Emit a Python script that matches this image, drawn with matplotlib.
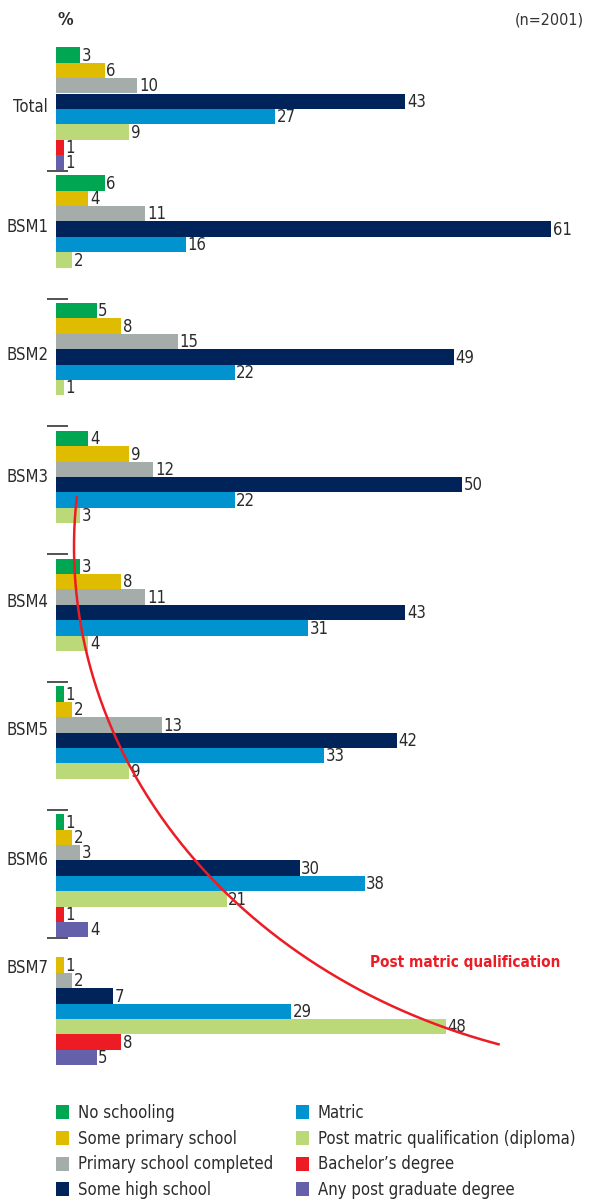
import numpy as np
import matplotlib.pyplot as plt
from matplotlib.patches import Patch

plt.rcParams['font.family'] = ['DejaVu Sans Condensed', 'DejaVu Sans']
plt.rcParams['font.stretch'] = 'condensed'
plt.rcParams['text.color'] = '#2b2b2b'

groups = ['Total', 'BSM1', 'BSM2', 'BSM3', 'BSM4', 'BSM5', 'BSM6', 'BSM7']
categories = ['No schooling', 'Some primary school', 'Primary school completed',
              'Some high school', 'Matric', 'Post matric qualification (diploma)',
              'Bachelor\u2019s degree', 'Any post graduate degree']
colors = ['#00a651', '#e0bc00', '#a5adaa', '#00245a',
          '#0093cf', '#bcd97a', '#ed1c24', '#6460aa']

no_schooling      = [3, 6, 5, 4, 3, 1, 1, 0]
some_primary      = [6, 4, 8, 9, 8, 2, 2, 1]
primary_completed = [10, 11, 15, 12, 11, 13, 3, 2]
some_high         = [43, 61, 49, 50, 43, 42, 30, 7]
matric            = [27, 16, 22, 22, 31, 33, 38, 29]
post_matric       = [9, 2, 1, 3, 4, 9, 21, 48]
bachelors         = [1, 0, 0, 0, 0, 0, 1, 8]
post_grad         = [1, 0, 0, 0, 0, 0, 4, 5]
series = [no_schooling, some_primary, primary_completed, some_high,
          matric, post_matric, bachelors, post_grad]

# layout (bar slots)
period = 8.3
label_off = [3.4, 2.85, 2.85, 2.5, 2.35, 2.3, 2.5, 1.2]
W, H = 602, 1201
fs = 12

fig = plt.figure(figsize=(W / 100, H / 100), dpi=100)
# axes: x origin at 56px, 8.12 px per %, 15.4 px per bar slot, first bar centre at y=55px
px_x, px_y = 8.12, 15.4
top, bot = 40, 1080
ax = fig.add_axes([56 / W, 1 - bot / H, (W - 56) / W, (bot - top) / H])
ax.set_xlim(0, (W - 56) / px_x)
ax.set_ylim((bot - 55) / px_y, (top - 55) / px_y)
ax.axis('off')

for g in range(len(groups)):
    base = g * period
    for i, s in enumerate(series):
        v = s[g]
        if v == 0:
            continue
        y = base + i
        ax.barh(y, v, height=1.0, color=colors[i], linewidth=0)
        ax.annotate(str(v), (v, y), xytext=(1.2, -0.5), textcoords='offset points',
                    ha='left', va='center', fontsize=fs)
    ax.text(-0.98, base + label_off[g], groups[g], ha='right', va='center', fontsize=fs)
    if g > 0:
        ax.plot([-1.1, 1.5], [base - 0.78] * 2, color='#444444', lw=1.3,
                clip_on=False, solid_capstyle='butt')

fig.text(57 / W, 1 - 20 / H, '%', fontsize=12.5, fontweight='bold', va='center', ha='left')
fig.text(584 / W, 1 - 20 / H, '(n=2001)', fontsize=11.5, va='center', ha='right',
         color='#333333')

# legend in two columns
handles = [Patch(facecolor=c, edgecolor='none') for c in colors]
kw = dict(frameon=False, fontsize=fs, handlelength=0.8, handleheight=0.9,
          handletextpad=0.5, labelspacing=0.46, borderpad=0, borderaxespad=0,
          loc='upper left')
leg1 = fig.legend(handles[:4], categories[:4], bbox_to_anchor=(56 / W, 1 - 1104 / H), **kw)
leg2 = fig.legend(handles[4:], categories[4:], bbox_to_anchor=(296 / W, 1 - 1104 / H), **kw)

# red arc over the bars
ov = fig.add_axes([0, 0, 1, 1], zorder=5)
ov.set_xlim(0, W)
ov.set_ylim(H, 0)
ov.axis('off')
ov.patch.set_alpha(0)
t = np.linspace(np.radians(185.5), np.radians(107), 200)
ov.plot(674 + 600 * np.cos(t), 547 + 520 * np.sin(t), color='#ed1c24', lw=1.8)
ov.text(370, 962, 'Post matric qualification', color='#ed1c24', fontsize=11,
        fontweight='bold', ha='left', va='center')

fig.savefig('out.png', dpi=100)
